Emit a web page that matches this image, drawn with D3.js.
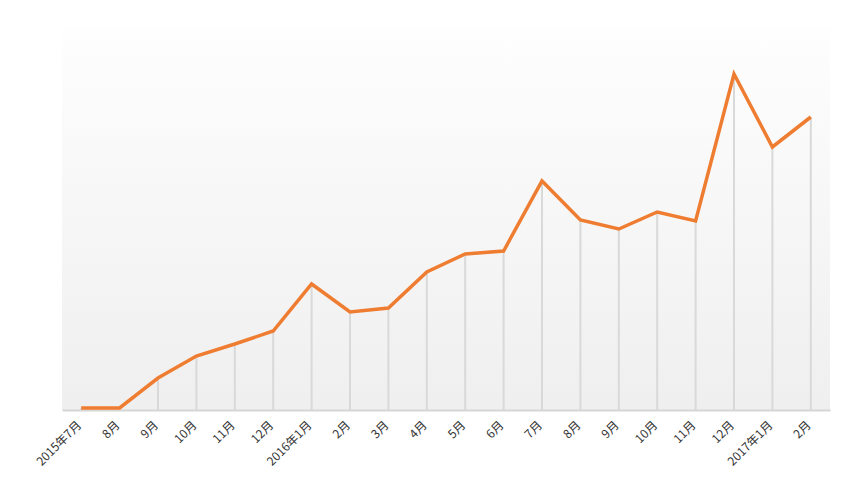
<!DOCTYPE html>
<html><head><meta charset="utf-8">
<script src="https://cdn.jsdelivr.net/npm/d3@7"></script>
<style>body{margin:0;background:#fff;}svg{display:block;}</style>
</head><body>
<script>
const categories = ["2015年7月","8月","9月","10月","11月","12月","2016年1月","2月","3月","4月","5月","6月","7月","8月","9月","10月","11月","12月","2017年1月","2月"];
const values = [0,0,30,52,64,77,124,96,100,136,154,157,227,188,179,196,187,334,261,291];
const yMax = 381;

(function(){
const W = 867, H = 487;
const mLeft = 62, mRight = 830, mTop = 27, mBottom = 408;
const svg = d3.select("body").append("svg").attr("width", W).attr("height", H);

const defs = svg.append("defs");
const g = defs.append("linearGradient").attr("id","bg").attr("x1",0).attr("y1",0).attr("x2",0).attr("y2",1);
g.append("stop").attr("offset","0%").attr("stop-color","#fefefe");
g.append("stop").attr("offset","100%").attr("stop-color","#efefef");

svg.append("rect").attr("x", mLeft).attr("y", mTop).attr("width", mRight-mLeft).attr("height", 410-mTop).attr("fill","url(#bg)");

const ids = categories.map((c,i)=>i);
const x = d3.scaleBand().domain(ids).range([mLeft, mRight]);
const y = d3.scaleLinear().domain([0, yMax]).range([mBottom, mTop]);
const cx = i => x(i) + x.bandwidth()/2;

svg.append("g").selectAll("line").data(values).join("line")
  .attr("x1",(d,i)=>cx(i)).attr("x2",(d,i)=>cx(i))
  .attr("y1", d=>y(d)).attr("y2", 410)
  .attr("stroke","#d9d9d9").attr("stroke-width",2);

const axis = d3.axisBottom(x).tickSize(0).tickFormat(i=>categories[i]);
const ax = svg.append("g").attr("transform","translate(0,410)").call(axis);
ax.select(".domain").attr("stroke","#d6d6d6").attr("stroke-width",2);
ax.selectAll("text")
  .attr("font-family","'Noto Sans CJK SC', 'Noto Sans', sans-serif")
  .attr("font-size",12).attr("fill","#333")
  .attr("text-anchor","end")
  .attr("dy","0.35em").attr("y",0)
  .attr("transform","translate(-2,13) rotate(-45)");

svg.append("path").datum(values)
  .attr("fill","none").attr("stroke","#ef7d31").attr("stroke-width",3.5)
  .attr("stroke-linejoin","miter")
  .attr("d", d3.line().x((d,i)=>cx(i)).y(d=>y(d)));
})();
</script>
</body></html>
